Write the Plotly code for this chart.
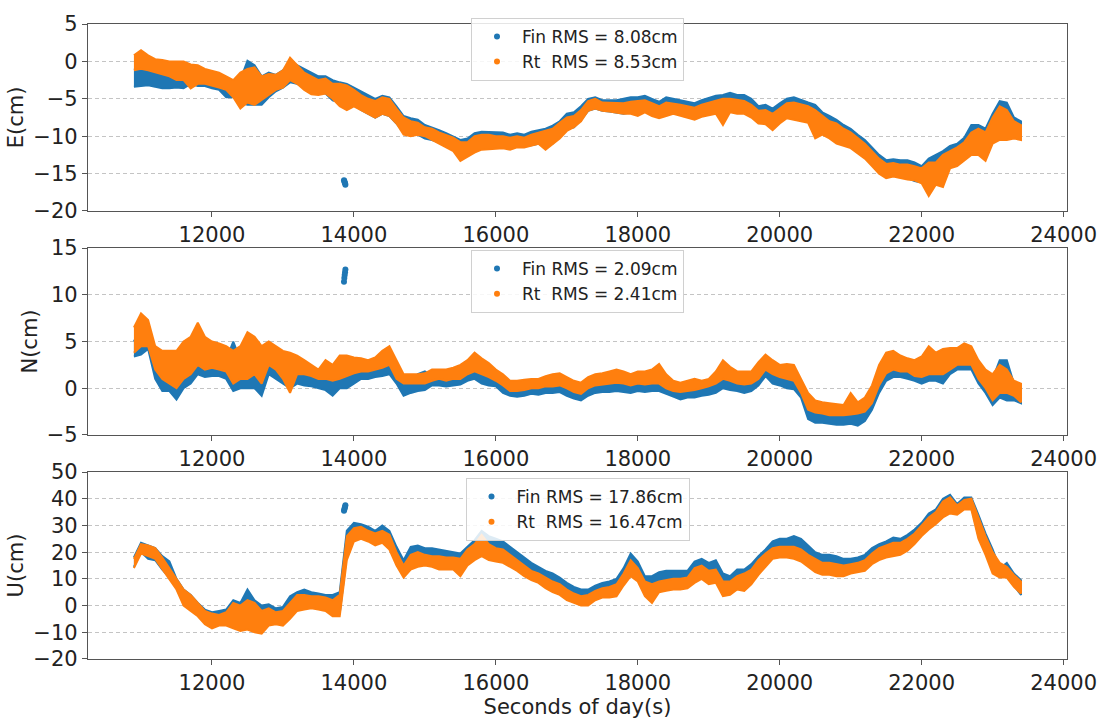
import plotly.graph_objects as go

# ---------------- data ----------------
# sample times (s of day), every 100 s
times = list(range(10900, 23401, 100))

# East component: upper / lower edges of the dense point band (cm)
e_rt_hi = [0.8, 1.5, 0.8, 0.3, 0.2, 0.0, 0.0, 0.0, -0.4, -0.5, -1.0, -1.2, -1.5, -2.0, -2.5, -1.5, -1.0, -0.8, -2.0, -1.7,
           -1.8, -1.2, 0.5, -0.5, -1.5, -2.0, -2.5, -2.3, -3.0, -3.0, -3.2, -3.8, -4.5, -5.0, -5.3,
           -4.8, -5.0, -6.3, -7.5, -8.0, -8.2, -8.8, -9.0, -9.5, -9.8, -10.2, -10.8, -10.8, -10.0, -9.8, -9.8, -10.0,
           -10.0, -10.2, -10.0, -10.2, -9.8, -9.5, -9.3, -9.0, -8.2, -7.5, -7.3, -6.5, -5.3, -5.0, -5.5, -5.5, -5.6,
           -5.6, -5.4, -5.3, -5.2, -5.6, -6.0, -5.5, -5.6, -5.8, -6.0, -6.2, -5.8, -5.5, -5.3, -5.0, -5.0, -5.2,
           -5.3, -5.8, -6.6, -6.5, -7.0, -6.3, -5.6, -5.5, -5.8, -6.0, -6.5, -7.3, -8.0, -8.3, -9.0, -9.5, -10.3,
           -11.0, -12.0, -13.0, -13.7, -13.6, -13.8, -13.8, -14.0, -14.3, -13.5, -13.5, -12.5, -12.0, -11.5, -10.8,
           -9.5, -9.0, -9.5, -7.5, -6.0, -6.5, -8.0, -8.5]
e_rt_lo = [-1.2, -1.0, -1.2, -1.4, -1.7, -2.0, -2.5, -2.5, -3.6, -3.0, -3.0, -3.2, -3.5, -3.8, -4.8, -6.3, -5.5, -5.8, -5.2,
           -4.5, -3.8, -3.5, -2.5, -3.0, -3.8, -4.4, -4.5, -4.3, -5.0, -6.0, -6.5, -6.0, -6.5, -7.0, -7.5,
           -7.0, -7.3, -8.3, -9.8, -10.0, -9.8, -10.0, -10.5, -11.0, -11.5, -12.0, -13.3, -12.8, -12.2, -11.8, -11.8,
           -11.7, -11.6, -11.8, -11.5, -11.5, -11.3, -11.0, -11.8, -11.0, -10.3, -9.3, -8.8, -8.0, -6.6, -6.3, -6.6,
           -6.7, -6.8, -7.0, -7.0, -7.3, -6.8, -7.3, -7.6, -7.3, -7.0, -7.2, -7.5, -7.8, -7.4, -7.2, -7.0, -8.5,
           -6.8, -7.0,
           -7.0, -7.5, -8.3, -8.4, -9.2, -8.3, -7.6, -7.8, -8.0, -8.2, -10.3, -9.8, -10.3, -11.0, -11.3, -11.6,
           -12.3, -13.0, -14.0, -15.0, -15.6, -15.4, -15.6, -15.8, -15.9, -16.3, -18.0, -16.5, -16.8, -14.3, -14.0,
           -13.2, -12.5, -12.5, -13.3, -11.0, -10.5, -10.5, -10.3, -10.5]
e_fin_hi = [-1.0, -1.0, -1.2, -1.3, -1.4, -1.5, -1.5, -1.5, -1.0, -1.5, -1.5, -1.5, -2.0, -2.5, -2.5, -2.5, 0.1, -0.5, -2.0,
            -1.5, -1.8, -1.2, 0.0, -0.5, -1.0, -1.5, -2.0, -2.0, -2.5, -2.8, -3.0, -3.5, -4.0, -4.5, -5.0,
            -4.6, -4.8, -6.0, -7.3, -7.6, -7.8, -8.5, -8.8, -9.2, -9.6, -10.0, -10.5, -10.3, -9.6, -9.4, -9.4, -9.5,
            -9.5, -9.8, -9.6, -9.8, -9.4, -9.2, -9.0, -8.6, -8.0, -7.0, -6.8, -6.0, -5.0, -4.8, -5.2, -5.2, -5.2,
            -5.0, -4.8, -4.8, -4.6, -5.0, -5.4, -4.8, -5.0, -5.2, -5.4, -5.6, -5.2, -4.9, -4.6, -4.5, -4.2, -4.5,
            -4.5, -5.0, -6.0, -5.8, -6.3, -5.6, -5.0, -4.8, -5.2, -5.5, -5.8, -6.8, -7.3, -7.8, -8.5, -9.0, -9.8,
            -10.5, -11.5, -12.5, -13.2, -13.1, -13.2, -13.2, -13.5, -14.0, -13.0, -12.5, -12.0, -11.3, -11.0, -10.2,
            -8.5, -8.5, -9.0, -7.0, -5.3, -5.5, -7.5, -8.0]
e_fin_lo = [-3.4, -3.3, -3.2, -3.4, -3.6, -3.6, -3.5, -3.6, -3.0, -3.3, -3.3, -3.6, -3.8, -4.8, -4.8, -5.5, -5.8, -5.8, -5.8,
            -4.8, -4.0, -3.5, -2.8, -3.0, -3.5, -4.0, -4.2, -4.3, -5.2, -5.5, -6.0, -5.8, -6.5, -7.0, -7.5,
            -7.0, -7.3, -8.3, -9.5, -9.8, -9.8, -10.3, -10.5, -10.8, -11.3, -11.8, -12.5, -12.5, -12.0, -11.5, -11.5,
            -11.5, -11.4, -11.5, -11.4, -11.3, -11.2, -11.0, -11.5, -11.0, -10.0, -9.0, -8.8, -7.8, -6.6, -6.3, -6.6,
            -6.7, -6.8, -7.0, -6.8, -7.0, -6.6, -7.0, -7.3, -7.0, -6.8, -7.0, -7.2, -7.5, -7.2, -7.0, -6.8, -7.0,
            -6.5, -6.8,
            -6.8, -7.3, -8.0, -8.0, -8.6, -8.0, -7.4, -7.5, -7.8, -8.0, -9.0, -9.5, -10.0, -10.8, -11.0, -11.4,
            -12.0, -12.8, -13.8, -14.8, -15.4, -15.2, -15.4, -15.6, -16.0, -16.2, -16.5, -16.0, -16.0, -14.0, -13.8,
            -13.0, -12.0, -12.0, -12.0, -10.5, -10.0, -10.0, -10.0, -10.2]
e_fin_out_t = [13860, 13865, 13870, 13875, 13880]
e_fin_out_v = [-15.9, -16.0, -16.2, -16.3, -16.5]

# North component
n_rt_hi = [6.5, 8.0, 7.3, 4.5, 4.0, 4.0, 4.0, 5.0, 5.5, 7.0, 5.5, 5.0, 4.8, 4.5, 4.0, 4.5, 6.0, 5.5, 4.5, 5.0,
           4.5, 4.0, 3.8, 3.5, 3.0, 2.5, 2.0, 3.0, 2.5, 3.5, 3.5, 3.3, 3.2, 3.0, 3.3,
           4.0, 4.5, 3.0, 1.5, 1.5, 1.5, 1.6, 2.0, 2.0, 2.0, 2.2, 2.5, 3.0, 3.8, 3.2, 2.7, 2.0, 1.5, 0.8, 0.8,
           0.9, 1.0, 1.0, 1.3, 1.5, 1.6, 1.2, 0.8, 0.6, 1.2, 1.5, 1.6, 1.8, 2.0, 1.8, 1.5, 1.8, 1.8, 2.0, 2.6,
           1.5, 0.8, 0.6, 0.8, 1.0, 0.8, 1.0, 1.8, 3.0, 2.3, 1.8,
           1.8, 1.8, 2.8, 3.6, 3.0, 2.5, 2.6, 2.5, 1.0, -0.5, -1.3, -1.5, -1.6, -1.7, -1.8, -0.5, -1.5, -1.0, 0.3,
           2.5, 3.8, 4.0, 3.5, 3.2, 3.0, 3.4, 4.5, 3.8, 4.2, 4.3, 4.3, 4.8, 4.5, 3.0, 2.0, 1.5, 2.5, 2.0, 0.8, 0.5]
n_rt_lo = [3.8, 4.5, 4.5, 2.0, 1.0, 0.5, 0.0, 1.0, 1.5, 2.5, 2.0, 2.2, 2.0, 1.8, 0.5, 1.0, 1.0, 1.5, 0.5, 2.5,
           2.0, 1.0, -0.5, 1.5, 1.5, 1.3, 1.0, 1.0, 0.8, 1.0, 1.3, 1.6, 1.8, 1.8, 2.0,
           2.2, 2.5, 1.0, 0.5, 0.5, 0.5, 0.5, 0.8, 1.0, 0.8, 1.0, 1.0, 1.5, 1.8, 1.5, 1.2, 0.8, 0.3, -0.3, -0.3,
           -0.2, 0.0, 0.0, 0.2, 0.2, 0.3, 0.0, -0.4, -0.6, 0.0, 0.3, 0.4, 0.5, 0.6, 0.5, 0.3, 0.5, 0.4, 0.5, 0.5,
           0.0, -0.3, -0.4, -0.3, -0.2, 0.0, 0.2, 0.5, 1.0, 0.8, 0.5,
           0.4, 0.5, 1.0, 2.0, 1.5, 1.2, 1.0, 0.8, -0.5, -2.3, -2.6, -2.7, -2.9, -2.9, -2.9, -2.8, -2.7, -2.5, -1.6,
           0.3, 1.6, 2.0, 1.8, 1.8, 1.3, 1.2, 1.5, 1.5, 1.5, 2.0, 2.5, 2.5, 2.5, 1.0, 0.0, -1.3, -0.5, -0.5, -0.8,
           -1.5]
n_fin_hi = [5.0, 6.5, 6.0, 4.0, 2.5, 2.5, 2.0, 3.0, 3.5, 5.0, 3.8, 3.0, 3.2, 3.0, 5.0, 3.0, 3.5, 4.0, 3.0, 3.5,
            3.0, 2.5, 2.5, 2.5, 2.0, 1.5, 1.0, 1.5, 1.5, 2.0, 2.5, 2.2, 2.3, 2.2, 2.5,
            2.8, 3.2, 2.0, 1.0, 0.8, 1.5, 1.8, 1.3, 1.2, 1.2, 1.5, 1.5, 2.0, 3.0, 2.5, 2.3, 1.5, 1.0, 0.3, 0.2,
            0.3, 0.8, 0.5, 0.6, 0.8, 0.9, 0.5, 0.3, 0.0, 0.5, 0.8, 0.9, 1.0, 1.2, 1.0, 0.8, 1.0, 1.0, 1.0, 1.2,
            0.6, 0.2, 0.0, 0.2, 0.3, 0.2, 0.4, 1.0, 2.0, 1.5, 1.0,
            1.0, 1.0, 2.0, 3.0, 2.3, 1.8, 2.0, 1.6, 0.5, -1.0, -2.0, -2.2, -2.2, -2.4, -2.4, -2.3, -2.2, -1.5, -0.3,
            1.5, 3.0, 3.6, 3.0, 2.6, 2.5, 2.8, 3.5, 3.2, 3.5, 3.8, 4.0, 4.5, 4.3, 2.8, 1.5, 1.0, 3.0, 3.0, 0.5, 0.3]
n_fin_lo = [3.4, 3.6, 4.2, 1.0, -0.3, -0.3, -1.2, 0.0, 0.5, 1.5, 1.2, 1.3, 1.3, 1.0, -0.3, 0.0, 0.0, 0.0, -0.8, 1.5,
            1.0, 0.5, 0.0, 0.5, 0.3, 0.2, 0.0, -0.2, -0.8, 0.0, 0.0, 0.5, 1.0, 1.0, 1.2,
            1.3, 1.5, 0.5, -0.8, -0.5, -0.3, -0.2, 0.3, 0.3, 0.2, 0.3, 0.4, 0.8, 1.0, 0.5, 0.3, 0.2, -0.5, -0.8,
            -0.9, -0.8, -0.6, -0.7, -0.5, -0.5, -0.4, -0.8, -1.1, -1.3, -0.8, -0.5, -0.4, -0.4, -0.3, -0.4, -0.5,
            -0.3, -0.4, -0.3, -0.3, -0.6, -0.9, -1.2, -1.0, -1.0, -0.8, -0.7, -0.5, 0.0, -0.2, -0.3,
            -0.5, -0.3, 0.3, 1.3, 0.5, 0.3, 0.0, -0.1, -1.0, -3.3, -3.7, -3.7, -3.8, -3.9, -3.9, -3.8, -4.0, -3.5,
            -2.3, -0.5, 0.8, 1.2, 1.2, 1.0, 0.8, 0.5, 0.8, 0.8, 0.5, 1.5, 2.0, 2.0, 2.0, 0.5, -0.5, -1.8, -1.0,
            -1.3, -1.3, -1.6]
n_fin_out_t = [13860, 13865, 13870, 13875, 13880]
n_fin_out_v = [11.4, 11.8, 12.1, 12.4, 12.7]

# Up component
u_rt_hi = [17.5, 23.0, 22.5, 21.5, 18.0, 14.0, 9.5, 6.0, 4.0, 1.0, -2.0, -3.0, -3.5, -2.5, 1.0, 0.0, 2.0, 1.0, -2.0,
           -1.0, -2.5, -2.0, 1.0, 4.0, 4.0, 3.5, 3.5, 3.0, 2.0, 4.0, 26.0, 29.0, 29.5, 28.0, 27.0,
           28.0, 26.5, 20.0, 15.0, 19.0, 20.0, 19.0, 18.5, 18.5, 18.0, 18.0, 17.5, 21.0, 23.0, 26.5, 23.0, 21.5,
           21.0, 19.0, 17.0, 15.0, 13.0, 12.0, 10.5, 9.0, 8.0, 6.0, 4.5, 3.5, 4.0, 5.5, 6.5, 7.0, 8.0, 12.0, 17.0,
           14.0, 9.0, 8.0, 9.0, 9.5, 10.0, 10.0, 10.5, 14.0, 15.0, 13.0, 13.5, 9.0, 9.0, 11.0,
           12.0, 13.5, 17.0, 19.5, 21.5, 22.0, 22.0, 22.0, 21.0, 19.0, 17.5, 16.0, 16.0, 15.5, 15.0, 15.5, 16.0,
           17.0, 19.5, 21.5, 22.5, 23.5, 23.5, 25.0, 27.0, 30.0, 33.0, 35.0, 39.0, 40.5, 37.5, 39.5, 40.0, 33.0,
           26.0, 20.0, 16.0, 14.5, 11.5, 9.0]
u_rt_lo = [14.0, 19.5, 18.5, 17.5, 14.0, 10.0, 6.0, 0.0, -2.0, -4.0, -7.0, -8.5, -7.5, -7.5, -8.5, -9.5, -9.0, -10.0,
           -10.5, -7.5, -7.0, -7.5, -5.0, -2.0, -1.5, -1.0, -1.5, -2.0, -4.0, -4.0, 17.0, 24.0, 25.0, 24.0, 22.5,
           23.5, 21.0, 15.0, 10.5, 13.5, 14.5, 15.0, 14.5, 13.5, 13.5, 13.5, 11.0, 15.0, 17.0, 18.5, 17.0, 16.5,
           16.0, 14.5, 13.0, 11.0, 9.5, 8.5, 6.5, 5.0, 4.0, 2.0, 1.0, 0.0, 0.0, 2.0, 3.0, 3.0, 3.5, 7.5, 11.0, 9.0,
           3.5, 1.0, 5.0, 5.5, 6.0, 6.0, 6.5, 8.5, 10.0, 8.0, 8.5, 3.5, 4.0, 6.0,
           5.5, 8.0, 11.5, 14.5, 17.5, 18.0, 18.0, 17.5, 16.5, 14.5, 12.5, 11.5, 11.5, 11.0, 11.0, 12.0, 12.5,
           13.0, 15.5, 17.0, 18.0, 18.5, 19.0, 20.5, 23.0, 26.0, 28.5, 30.5, 33.0, 34.5, 34.0, 36.0, 36.0, 25.0,
           19.0, 12.0, 10.5, 10.5, 7.0, 4.5]
u_fin_hi = [18.0, 23.5, 22.5, 21.5, 18.5, 16.5, 10.0, 6.0, 4.0, 1.0, -1.5, -2.5, -2.0, -1.5, 2.0, 1.0, 6.0, 2.0, 0.0,
            0.5, -1.0, -0.5, 3.5, 5.0, 6.0, 5.0, 4.5, 4.0, 4.0, 5.0, 28.0, 31.0, 30.5, 29.5, 28.0,
            30.0, 28.0, 22.0, 17.0, 22.0, 22.5, 21.5, 21.5, 21.0, 20.5, 20.0, 19.5, 22.0, 24.5, 28.0, 26.0, 25.0,
            24.0, 22.0, 20.0, 18.0, 16.0, 14.5, 13.0, 12.0, 10.5, 8.5, 7.0, 6.0, 6.0, 7.5, 8.5, 9.0, 10.0, 14.0,
            19.5, 16.5, 11.0, 11.0, 12.5, 13.0, 13.0, 13.0, 13.0, 16.5, 17.5, 16.0, 17.0, 12.0, 11.0, 13.5,
            13.5, 15.5, 18.5, 21.0, 24.0, 25.0, 25.0, 26.0, 25.0, 22.5, 20.0, 19.0, 19.0, 18.5, 17.5, 17.5, 18.0,
            19.0, 21.5, 23.0, 24.0, 25.5, 25.0, 26.5, 28.5, 31.0, 34.5, 36.0, 40.0, 41.5, 38.0, 40.5, 40.5, 34.0,
            27.0, 21.0, 14.0, 16.0, 12.0, 9.5]
u_fin_lo = [14.5, 20.0, 17.5, 17.0, 13.5, 10.5, 6.5, 1.0, -1.5, -3.5, -5.5, -7.0, -6.5, -6.5, -6.0, -7.0, -7.0, -8.0,
            -8.0, -7.0, -6.5, -7.0, -4.0, -1.5, -1.0, 0.0, -0.5, -1.0, -3.0, -3.0, 19.0, 25.0, 26.0, 25.0, 23.5,
            24.0, 22.0, 16.0, 12.0, 15.0, 16.0, 16.5, 16.0, 15.5, 15.0, 15.0, 14.0, 16.5, 18.5, 20.0, 19.0, 18.5,
            18.0, 16.5, 15.0, 13.5, 11.0, 10.0, 8.0, 7.0, 5.5, 4.0, 3.0, 2.0, 2.0, 3.5, 4.5, 4.5, 5.0, 9.0, 13.0,
            10.5, 5.0, 4.0, 7.0, 7.5, 8.0, 8.0, 8.5, 10.0, 11.5, 10.0, 10.0, 5.5, 6.0, 8.0,
            7.0, 9.5, 13.0, 16.0, 19.0, 19.5, 19.5, 19.0, 18.5, 16.5, 14.5, 13.0, 13.0, 13.0, 13.0, 13.5, 14.0,
            14.5, 17.0, 18.5, 19.5, 20.0, 20.5, 22.0, 24.0, 27.0, 29.5, 31.5, 34.0, 35.5, 35.0, 37.0, 37.0, 26.0,
            20.0, 13.0, 11.0, 11.0, 7.5, 4.0]
u_fin_out_t = [13860, 13865, 13870, 13875, 13880]
u_fin_out_v = [35.5, 36.0, 36.5, 37.0, 37.6]

legend_fin = ["Fin RMS = 8.08cm", "Fin RMS = 2.09cm", "Fin RMS = 17.86cm"]
legend_rt = ["Rt\u00a0 RMS = 8.53cm", "Rt\u00a0 RMS = 2.41cm", "Rt\u00a0 RMS = 16.47cm"]
y_titles = ["E(cm)", "N(cm)", "U(cm)"]
x_ticks = [12000, 14000, 16000, 18000, 20000, 22000, 24000]

# ---------------- figure ----------------
FIN = "#1f77b4"
RT = "#ff7f0e"
FONT = "DejaVu Sans"

panels = [
    (e_fin_hi, e_fin_lo, e_rt_hi, e_rt_lo, e_fin_out_t, e_fin_out_v),
    (n_fin_hi, n_fin_lo, n_rt_hi, n_rt_lo, n_fin_out_t, n_fin_out_v),
    (u_fin_hi, u_fin_lo, u_rt_hi, u_rt_lo, u_fin_out_t, u_fin_out_v),
]
legend_names = ["legend", "legend2", "legend3"]

fig = go.Figure()
for i, (fhi, flo, rhi, rlo, ot, ov) in enumerate(panels):
    xa = "x" if i == 0 else f"x{i+1}"
    ya = "y" if i == 0 else f"y{i+1}"
    lg = legend_names[i]
    band_x = times + times[::-1]
    fig.add_trace(go.Scatter(x=band_x, y=fhi + flo[::-1], fill="toself", fillcolor=FIN,
                             mode="lines", line=dict(color=FIN, width=2), xaxis=xa, yaxis=ya,
                             showlegend=False, hoverinfo="skip"))
    fig.add_trace(go.Scatter(x=ot, y=ov, mode="markers", marker=dict(color=FIN, size=6),
                             xaxis=xa, yaxis=ya, showlegend=False))
    fig.add_trace(go.Scatter(x=band_x, y=rhi + rlo[::-1], fill="toself", fillcolor=RT,
                             mode="lines", line=dict(color=RT, width=2), xaxis=xa, yaxis=ya,
                             showlegend=False, hoverinfo="skip"))
    # legend entries
    fig.add_trace(go.Scatter(x=[None], y=[None], mode="markers", marker=dict(color=FIN, size=6),
                             name=legend_fin[i], xaxis=xa, yaxis=ya, legend=lg))
    fig.add_trace(go.Scatter(x=[None], y=[None], mode="markers", marker=dict(color=RT, size=6),
                             name=legend_rt[i], xaxis=xa, yaxis=ya, legend=lg))

H = 652.0
domains = [[460 / H, 1.0], [230 / H, 422 / H], [0.0, 192 / H]]
yranges = [[-20, 5], [-5, 15], [-20, 50]]
ydticks = [5, 5, 10]
legend_y = [1.0095, 0.6440, 0.2850]

axis_common = dict(showline=True, linecolor="#555555", linewidth=1.3, mirror=True,
                   ticks="outside", ticklen=5, tickwidth=1.2, tickcolor="#555555",
                   tickfont=dict(size=21, color="#222222", family=FONT), zeroline=False)

layout = dict(
    width=1109, height=725,
    margin=dict(l=88, r=37, t=15, b=58),
    paper_bgcolor="white", plot_bgcolor="white",
    font=dict(family=FONT, color="#222222"),
)
for i in range(3):
    sfx = "" if i == 0 else str(i + 1)
    xa = dict(axis_common, domain=[0, 1], anchor="y" + sfx, range=[10253, 24048],
              tickvals=x_ticks, tickformat="d", showgrid=False)
    if i == 2:
        xa["title"] = dict(text="Seconds of day(s)", font=dict(size=21, family=FONT, color="#222222"),
                           standoff=3)
    ya = dict(axis_common, domain=domains[i], anchor="x" + sfx, range=yranges[i],
              dtick=ydticks[i], tick0=0, showgrid=True, gridcolor="#c4c4c4", gridwidth=1,
              griddash="4px,3px",
              title=dict(text=y_titles[i], font=dict(size=21, family=FONT, color="#222222"), standoff=3))
    layout["xaxis" + sfx] = xa
    layout["yaxis" + sfx] = ya
    layout[legend_names[i]] = dict(x=0.5, xanchor="center", y=legend_y[i], yanchor="top",
                                  bgcolor="rgba(255,255,255,0.85)", bordercolor="#d0d0d0",
                                  borderwidth=1, font=dict(size=17, family=FONT, color="#222222"),
                                  itemwidth=40, tracegroupgap=0)

fig.update_layout(**layout)
fig.write_html("out.html")
